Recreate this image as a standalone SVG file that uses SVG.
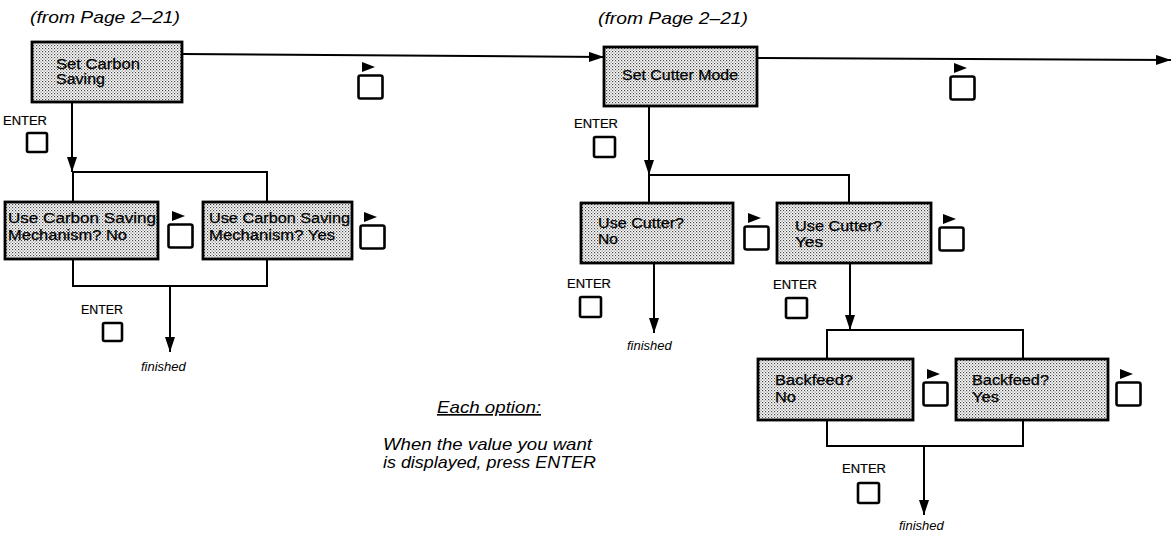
<svg xmlns="http://www.w3.org/2000/svg" width="1172" height="533" viewBox="0 0 1172 533">
<defs>
<pattern id="stip" width="3" height="3" patternUnits="userSpaceOnUse">
<rect width="3" height="3" fill="#ffffff"/>
<rect x="0" y="0" width="1.2" height="1.2" fill="#444"/>
<rect x="1.5" y="1.5" width="1.2" height="1.2" fill="#777"/>
</pattern>
<marker id="ah" markerWidth="15" markerHeight="10" refX="15" refY="5" orient="auto" markerUnits="userSpaceOnUse">
<path d="M0,0 L15,5 L0,10 z" fill="#000"/>
</marker>
<g id="key">
<path d="M4,0 L4,10 L17,5 z" fill="#000"/>
<rect x="0.5" y="13.5" width="24" height="23" rx="2" fill="none" stroke="#000" stroke-width="2.6"/>
</g>
</defs>
<style>
.box{fill:url(#stip);stroke:#000;stroke-width:2.8}
.bt{font-family:"Liberation Sans",Arial,sans-serif;font-size:14px;fill:#000;stroke:#000;stroke-width:0.25}
.ent{font-family:"Liberation Sans",Arial,sans-serif;font-size:13px;fill:#000;stroke:#000;stroke-width:0.2}
.sq{fill:none;stroke:#000;stroke-width:2.6}
.it{font-family:"Liberation Sans",Arial,sans-serif;font-style:italic;fill:#000}
.ln{fill:none;stroke:#000;stroke-width:2}
</style>
<rect width="1172" height="533" fill="#fff"/>

<text class="it" x="30" y="23" font-size="17" textLength="150" lengthAdjust="spacingAndGlyphs">(from Page 2–21)</text>
<text class="it" x="598" y="24" font-size="17" textLength="150" lengthAdjust="spacingAndGlyphs">(from Page 2–21)</text>

<g id="connectors">
<path class="ln" d="M182 54 L604 57" marker-end="url(#ah)"/>
<path class="ln" d="M72 102 V172" marker-end="url(#ah)"/>
<path class="ln" d="M73 202 V172 H267 V202"/>
<path class="ln" d="M73 259 V286 H267 V259"/>
<path class="ln" d="M170 286 V352" marker-end="url(#ah)"/>
<path class="ln" d="M757 58 L1171 60" marker-end="url(#ah)"/>
<path class="ln" d="M649 106 V175" marker-end="url(#ah)"/>
<path class="ln" d="M649 203 V175 H849 V203"/>
<path class="ln" d="M654 263 V333" marker-end="url(#ah)"/>
<path class="ln" d="M850 263 V330" marker-end="url(#ah)"/>
<path class="ln" d="M827 359 V330 H1023 V359"/>
<path class="ln" d="M827 420 V446 H1023 V420"/>
<path class="ln" d="M924 446 V515" marker-end="url(#ah)"/>
</g>

<g id="set-carbon-saving">
<rect class="box" x="32" y="42" width="150" height="60"/>
<text class="bt" x="56" y="69" textLength="84" lengthAdjust="spacingAndGlyphs">Set Carbon</text>
<text class="bt" x="56" y="84" textLength="49" lengthAdjust="spacingAndGlyphs">Saving</text>
</g>
<g id="key-1"><use href="#key" x="358" y="62"/></g>
<g id="enter-1">
<text class="ent" x="3" y="125" textLength="44" lengthAdjust="spacingAndGlyphs">ENTER</text>
<rect class="sq" x="27" y="133" width="20" height="19" rx="1.5"/>
</g>

<g id="carbon-no">
<rect class="box" x="5" y="202" width="153" height="57"/>
<text class="bt" x="8" y="223" textLength="148" lengthAdjust="spacingAndGlyphs">Use Carbon Saving</text>
<text class="bt" x="8" y="240" textLength="119" lengthAdjust="spacingAndGlyphs">Mechanism? No</text>
</g>
<g id="key-2"><use href="#key" x="168" y="211"/></g>

<g id="carbon-yes">
<rect class="box" x="203" y="202" width="149" height="57"/>
<text class="bt" x="209" y="223" textLength="141" lengthAdjust="spacingAndGlyphs">Use Carbon Saving</text>
<text class="bt" x="209" y="240" textLength="126" lengthAdjust="spacingAndGlyphs">Mechanism? Yes</text>
</g>
<g id="key-3"><use href="#key" x="360" y="212"/></g>
<g id="enter-2">
<text class="ent" x="81" y="314" textLength="42" lengthAdjust="spacingAndGlyphs">ENTER</text>
<rect class="sq" x="103" y="323" width="19" height="18" rx="1.5"/>
</g>
<text class="it" x="141" y="371" font-size="13">finished</text>

<g id="note">
<text class="it" x="437" y="413" font-size="16.5" textLength="104" lengthAdjust="spacingAndGlyphs" text-decoration="underline">Each option:</text>
<text class="it" x="383" y="450" font-size="17" textLength="209" lengthAdjust="spacingAndGlyphs">When the value you want</text>
<text class="it" x="383" y="468" font-size="17" textLength="213" lengthAdjust="spacingAndGlyphs">is displayed, press ENTER</text>
</g>

<g id="set-cutter-mode">
<rect class="box" x="604" y="47" width="153" height="59"/>
<text class="bt" x="622" y="80" textLength="116" lengthAdjust="spacingAndGlyphs">Set Cutter Mode</text>
</g>
<g id="key-4"><use href="#key" x="950" y="63"/></g>
<g id="enter-3">
<text class="ent" x="574" y="128" textLength="44" lengthAdjust="spacingAndGlyphs">ENTER</text>
<rect class="sq" x="594" y="137" width="21" height="20" rx="1.5"/>
</g>

<g id="cutter-no">
<rect class="box" x="581" y="203" width="152" height="60"/>
<text class="bt" x="598" y="228" textLength="86" lengthAdjust="spacingAndGlyphs">Use Cutter?</text>
<text class="bt" x="598" y="244" textLength="20" lengthAdjust="spacingAndGlyphs">No</text>
</g>
<g id="key-5"><use href="#key" x="744" y="213"/></g>
<g id="enter-4">
<text class="ent" x="567" y="288" textLength="44" lengthAdjust="spacingAndGlyphs">ENTER</text>
<rect class="sq" x="580" y="297" width="21" height="20" rx="1.5"/>
</g>
<text class="it" x="627" y="350" font-size="13">finished</text>

<g id="cutter-yes">
<rect class="box" x="777" y="203" width="154" height="60"/>
<text class="bt" x="795" y="231" textLength="87" lengthAdjust="spacingAndGlyphs">Use Cutter?</text>
<text class="bt" x="795" y="247" textLength="28" lengthAdjust="spacingAndGlyphs">Yes</text>
</g>
<g id="key-6"><use href="#key" x="939" y="214"/></g>
<g id="enter-5">
<text class="ent" x="773" y="289" textLength="44" lengthAdjust="spacingAndGlyphs">ENTER</text>
<rect class="sq" x="786" y="298" width="21" height="20" rx="1.5"/>
</g>

<g id="backfeed-no">
<rect class="box" x="758" y="359" width="155" height="61"/>
<text class="bt" x="775" y="385" textLength="78" lengthAdjust="spacingAndGlyphs">Backfeed?</text>
<text class="bt" x="775" y="402" textLength="21" lengthAdjust="spacingAndGlyphs">No</text>
</g>
<g id="key-7"><use href="#key" x="923" y="369"/></g>

<g id="backfeed-yes">
<rect class="box" x="956" y="359" width="152" height="61"/>
<text class="bt" x="972" y="385" textLength="77" lengthAdjust="spacingAndGlyphs">Backfeed?</text>
<text class="bt" x="972" y="402" textLength="27" lengthAdjust="spacingAndGlyphs">Yes</text>
</g>
<g id="key-8"><use href="#key" x="1116" y="369"/></g>
<g id="enter-6">
<text class="ent" x="842" y="473" textLength="44" lengthAdjust="spacingAndGlyphs">ENTER</text>
<rect class="sq" x="858" y="483" width="21" height="20" rx="1.5"/>
</g>
<text class="it" x="899" y="530" font-size="13">finished</text>
</svg>
